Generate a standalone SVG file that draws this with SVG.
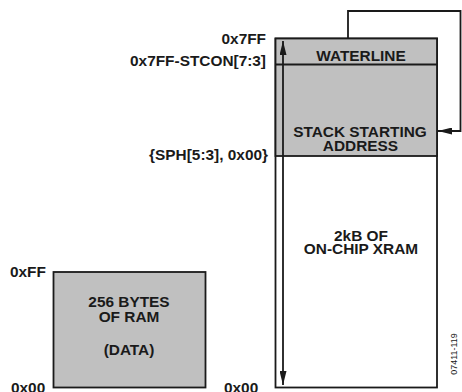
<svg xmlns="http://www.w3.org/2000/svg" width="462" height="392" viewBox="0 0 462 392">
<defs>
<style>
.t{font-family:"Liberation Sans",Arial,sans-serif;font-weight:bold;fill:#1a1a1a;font-size:15.4px}
.lb{text-anchor:end}
.bx{text-anchor:middle}
.box{stroke:#1a1a1a;stroke-width:1.8}
.ln{stroke:#1a1a1a;stroke-width:1.8;fill:none}
</style>
<marker id="ah" viewBox="0 0 14 7" refX="14" refY="3.5" markerWidth="14" markerHeight="7" markerUnits="userSpaceOnUse" orient="auto-start-reverse">
<path d="M0,0 L14,3.5 L0,7 Z" fill="#1a1a1a"/>
</marker>
</defs>
<rect width="462" height="392" fill="#fff"/>
<g id="xram">
<rect class="box" x="275.5" y="38.5" width="161.5" height="349" fill="#fff"/>
<rect class="box" x="275.5" y="38.5" width="161.5" height="117.5" fill="#c0c0c0"/>
<line class="ln" x1="275.5" y1="64.5" x2="437" y2="64.5"/>
<text class="t bx" x="361" y="60.5">WATERLINE</text>
<text class="t bx" x="360" y="136.5">STACK STARTING</text>
<text class="t bx" x="360.5" y="150.5">ADDRESS</text>
<text class="t bx" x="361" y="240.5">2kB OF</text>
<text class="t bx" x="361" y="253.5">ON-CHIP XRAM</text>
</g>
<g id="ram">
<rect class="box" x="53.5" y="272" width="152" height="115.5" fill="#c0c0c0"/>
<text class="t bx" x="129" y="306.5">256 BYTES</text>
<text class="t bx" x="129" y="322.3">OF RAM</text>
<text class="t bx" x="129" y="354.5">(DATA)</text>
</g>
<g id="labels">
<text class="t lb" x="266" y="43.5">0x7FF</text>
<text class="t lb" x="266" y="66">0x7FF-STCON[7:3]</text>
<text class="t lb" x="268" y="160">{SPH[5:3], 0x00}</text>
<text class="t" x="10" y="277">0xFF</text>
<text class="t" x="11" y="393">0x00</text>
<text class="t" x="224" y="393">0x00</text>
<text font-family="'Liberation Sans',Arial,sans-serif" font-size="9" fill="#1a1a1a" text-anchor="middle" transform="translate(457,354) rotate(-90)">07411-119</text>
</g>
<g id="connectors">
<line class="ln" x1="283" y1="385" x2="283" y2="41" marker-start="url(#ah)" marker-end="url(#ah)"/>
<polyline class="ln" points="348,38 348,11 460.5,11 460.5,131 438,131" marker-end="url(#ah)"/>
</g>
</svg>
